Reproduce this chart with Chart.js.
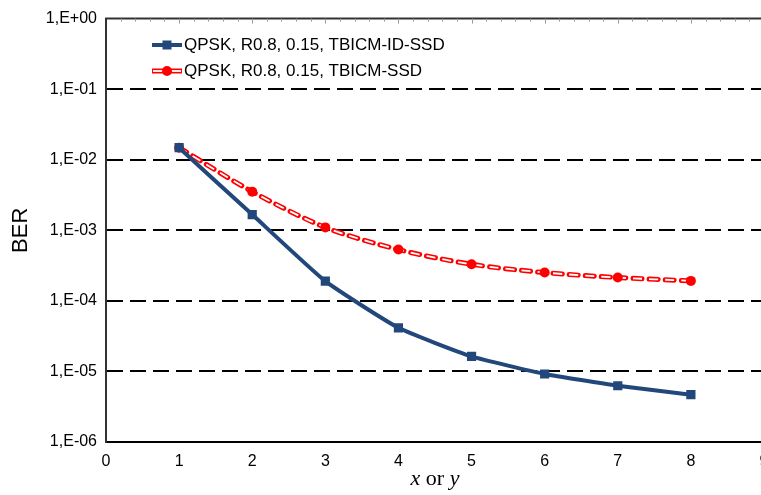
<!DOCTYPE html>
<html>
<head>
    <meta charset="utf-8" />
    <title>BER</title>
    <style>
        body { margin: 0; overflow: hidden; background: #fff; }
        #wrap { width: 792px; height: 495px; position: relative; }
    </style>
</head>
<body>
    <div id="wrap"><canvas id="myChart"></canvas></div>
    <script src="https://cdn.jsdelivr.net/npm/chart.js@4.4.0/dist/chart.umd.min.js"></script>
    <script>
        // données
        var xValues = [1, 2, 3, 4, 5, 6, 7, 8];
        var berIdSsd = [1.48e-2, 1.67e-3, 1.9e-4, 4.15e-5, 1.63e-5, 9.2e-6, 6.27e-6, 4.68e-6];
        var berSsd = [1.48e-2, 3.53e-3, 1.1e-3, 5.33e-4, 3.3e-4, 2.52e-4, 2.14e-4, 1.92e-4];
        var seriesLabels = ['QPSK, R0.8, 0.15, TBICM-ID-SSD', 'QPSK, R0.8, 0.15, TBICM-SSD'];
        var yTicks = [1e-6, 1e-5, 1e-4, 1e-3, 1e-2, 1e-1, 1];
        var xTitle = ['x', ' or ', 'y'];

        var blue = '#22477A';
        var red = '#FF0000';

        function pts(arr) {
            return xValues.map(function (x, i) { return { x: x, y: arr[i] }; });
        }

        function fmtBer(v) {
            var e = Math.round(Math.log10(v));
            var a = Math.abs(e);
            return '1,E' + (e < 0 ? '-' : '+') + (a < 10 ? '0' : '') + a;
        }

        // bordure du haut, petites graduations, légende et titre de l'axe x
        var decor = {
            id: 'decor',
            afterDraw: function (chart) {
                var c = chart.ctx, a = chart.chartArea, sx = chart.scales.x;
                c.save();
                c.strokeStyle = '#333';
                c.lineWidth = 2;
                c.beginPath();
                c.moveTo(a.left - 1, a.top);
                c.lineTo(a.right + 30, a.top);
                c.stroke();
                c.strokeStyle = '#999';
                c.lineWidth = 1;
                for (var k = 1; k <= 45; k++) {
                    var px = Math.round(sx.getPixelForValue(k / 5)) + 0.5;
                    c.beginPath();
                    c.moveTo(px, a.top);
                    c.lineTo(px, a.top + (k % 5 === 0 ? 5 : 3));
                    c.stroke();
                }

                // légende
                var lx0 = 152, lx1 = 182, ly = [45, 71];
                c.lineWidth = 4;
                c.strokeStyle = blue;
                c.beginPath(); c.moveTo(lx0, ly[0]); c.lineTo(lx1, ly[0]); c.stroke();
                c.fillStyle = blue;
                c.fillRect(167 - 4.5, ly[0] - 4.5, 9, 9);
                c.lineWidth = 5;
                c.strokeStyle = red;
                c.beginPath(); c.moveTo(lx0, ly[1]); c.lineTo(lx1, ly[1]); c.stroke();
                c.lineWidth = 1.8;
                c.strokeStyle = '#fff';
                c.beginPath(); c.moveTo(lx0 + 1, ly[1]); c.lineTo(lx1 - 1, ly[1]); c.stroke();
                c.fillStyle = red;
                c.beginPath(); c.arc(167, ly[1], 5, 0, Math.PI * 2); c.fill();
                c.fillStyle = '#000';
                c.font = '17px "Liberation Sans", Arial, sans-serif';
                c.textBaseline = 'middle';
                c.textAlign = 'left';
                c.fillText(seriesLabels[0], 184, ly[0]);
                c.fillText(seriesLabels[1], 184, ly[1]);

                // titre x : x or y
                var fonts = ['italic 22px "Liberation Serif", "DejaVu Serif", serif', '22px "Liberation Serif", "DejaVu Serif", serif', 'italic 22px "Liberation Serif", "DejaVu Serif", serif'];
                var w = 0, ws = [];
                for (var i = 0; i < xTitle.length; i++) {
                    c.font = fonts[i];
                    ws.push(c.measureText(xTitle[i]).width);
                    w += ws[i];
                }
                var tx = (a.left + a.right) / 2 - w / 2;
                c.textBaseline = 'alphabetic';
                for (var j = 0; j < xTitle.length; j++) {
                    c.font = fonts[j];
                    c.fillText(xTitle[j], tx, 485);
                    tx += ws[j];
                }
                c.restore();
            }
        };

        var context = document.getElementById('myChart').getContext('2d');
        var chart = new Chart(context, {
            type: 'line',
            data: {
                datasets: [
                    {
                        label: seriesLabels[0],
                        data: pts(berIdSsd),
                        borderColor: blue,
                        backgroundColor: blue,
                        borderWidth: 4,
                        pointStyle: 'rect',
                        pointRadius: 6.5,
                        pointBorderWidth: 0,
                        tension: 0.15,
                        order: 0
                    },
                    {
                        label: seriesLabels[1] + ' points',
                        data: pts(berSsd),
                        showLine: false,
                        borderColor: red,
                        backgroundColor: red,
                        pointRadius: 5,
                        pointBorderWidth: 0,
                        order: 1
                    },
                    {
                        label: seriesLabels[1] + ' inner',
                        data: pts(berSsd),
                        borderColor: '#fff',
                        borderWidth: 1.8,
                        borderDash: [9, 7],
                        pointRadius: 0,
                        tension: 0.3,
                        order: 2
                    },
                    {
                        label: seriesLabels[1],
                        data: pts(berSsd),
                        borderColor: red,
                        borderWidth: 5,
                        borderDash: [9, 7],
                        borderCapStyle: 'round',
                        pointRadius: 0,
                        tension: 0.3,
                        order: 3
                    }
                ]
            },
            options: {
                responsive: true,
                maintainAspectRatio: false,
                animation: false,
                layout: { padding: { left: 0, right: 28, top: 18, bottom: 0 } },
                plugins: {
                    legend: { display: false },
                    tooltip: { enabled: false }
                },
                scales: {
                    x: {
                        type: 'linear',
                        min: 0,
                        max: 9,
                        ticks: {
                            stepSize: 1,
                            padding: 2,
                            color: '#000',
                            font: { size: 16, family: '"Liberation Sans", Arial, sans-serif' }
                        },
                        grid: { display: false },
                        border: { display: true, color: '#000', width: 2 },
                        afterFit: function (s) { s.height = 53; }
                    },
                    y: {
                        type: 'logarithmic',
                        min: 1e-6,
                        max: 1,
                        afterBuildTicks: function (s) {
                            s.ticks = yTicks.map(function (v) { return { value: v }; });
                        },
                        afterFit: function (s) { s.width = 106; },
                        ticks: {
                            padding: 9,
                            color: '#000',
                            font: { size: 16, family: '"Liberation Sans", Arial, sans-serif' },
                            callback: function (v) { return fmtBer(v); }
                        },
                        grid: {
                            drawTicks: false,
                            lineWidth: 2,
                            color: function (ctx) {
                                var v = ctx.tick ? ctx.tick.value : 0;
                                return (v === 1 || v === 1e-6) ? 'rgba(0,0,0,0)' : '#000';
                            }
                        },
                        border: { display: true, color: '#333', width: 2, dash: [16, 7] },
                        title: {
                            display: true,
                            text: 'BER',
                            color: '#000',
                            padding: { top: 8, bottom: 0 },
                            font: { size: 22, family: '"Liberation Sans", Arial, sans-serif' }
                        }
                    }
                }
            },
            plugins: [decor]
        });
    </script>
</body>
</html>
